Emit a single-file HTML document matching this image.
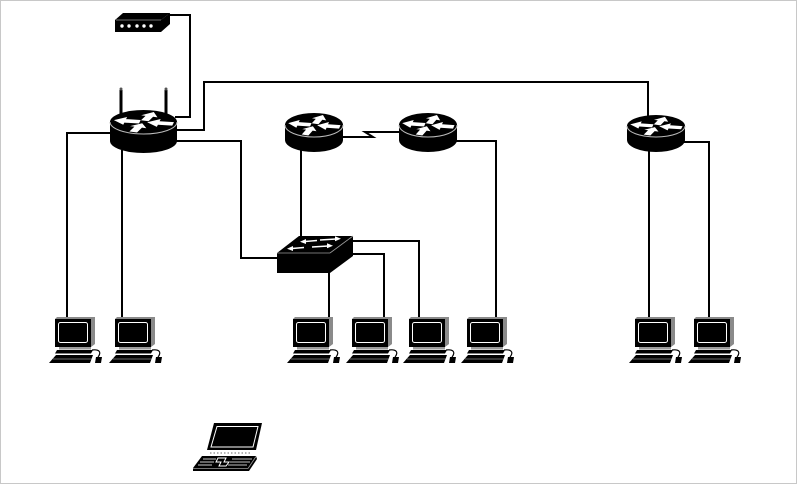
<!DOCTYPE html>
<html><head><meta charset="utf-8"><style>
html,body{margin:0;padding:0;background:#fff;}
svg{display:block;}
</style></head><body>
<svg width="800" height="486" viewBox="0 0 800 486" xmlns="http://www.w3.org/2000/svg">
<defs>
  <g id="pc">
    <polygon points="2,0 40,0 40,27 36,30 36,2 0,2" fill="#8a8a8a"/>
    <rect x="0" y="2" width="36" height="28" fill="#000"/>
    <rect x="3.5" y="5.5" width="29" height="20" rx="2" fill="none" stroke="#fff" stroke-width="1"/>
    <rect x="4" y="30" width="32" height="2.5" fill="#9a9a9a"/>
    <polygon points="2,33 38,33 36,36.5 0,36.5" fill="#000"/>
    <polygon points="1,38 38,38 35,46 -6,46" fill="#000"/>
    <line x1="-2" y1="42" x2="36.5" y2="42" stroke="#888" stroke-width="0.8"/>
    <path d="M37,33 C44,32 47,35 43,40" stroke="#000" fill="none" stroke-width="1.2"/>
    <polygon points="41,40 47,40 46,46 40,46" fill="#000"/>
  </g>
  <g id="arr" fill="#fff">
    <polygon transform="rotate(190)" points="0.12,-0.16 0.6,-0.16 0.6,-0.36 0.97,0 0.6,0.36 0.6,0.16 0.12,0.16"/>
    <polygon transform="rotate(10)" points="0.97,-0.16 0.5,-0.16 0.5,-0.36 0.12,0 0.5,0.36 0.5,0.16 0.97,0.16"/>
    <polygon transform="rotate(-70)" points="0.12,-0.13 0.55,-0.13 0.55,-0.28 0.97,0 0.55,0.28 0.55,0.13 0.12,0.13"/>
    <polygon transform="rotate(110)" points="0.97,-0.13 0.5,-0.13 0.5,-0.28 0.12,0 0.5,0.28 0.5,0.13 0.97,0.13"/>
  </g>
</defs>
<rect x="0" y="0" width="800" height="486" fill="#fff"/>
<!-- frame -->
<line x1="0" y1="0.5" x2="797" y2="0.5" stroke="#c8c8c8" stroke-width="1"/>
<line x1="0.5" y1="0" x2="0.5" y2="484" stroke="#c8c8c8" stroke-width="1"/>
<line x1="796.5" y1="0" x2="796.5" y2="484" stroke="#c8c8c8" stroke-width="1"/>
<line x1="0" y1="483.5" x2="797" y2="483.5" stroke="#c8c8c8" stroke-width="1"/>

<!-- connectors -->
<g stroke="#000" stroke-width="2" fill="none">
  <path d="M168,15 H190 V117 H175"/>
  <path d="M175,130 H204 V82 H648 V116"/>
  <path d="M112,133 H67 V325"/>
  <path d="M122,150 V325"/>
  <path d="M175,141 H241 V258 H278"/>
  <path d="M301,150 V238"/>
  <path d="M341,137 H373 L365,132 H401"/>
  <path d="M455,141 H496 V325"/>
  <path d="M351,241 H419 V325"/>
  <path d="M330,254 H384 V325"/>
  <path d="M329,270 V325"/>
  <path d="M683,142 H709 V325"/>
  <path d="M649,150 V325"/>
</g>

<!-- modem -->
<polygon points="115,20 123,13 170,13 161,20" fill="#000"/>
<polygon points="161,20 170,13 170,24 161,32" fill="#000"/>
<rect x="115" y="20" width="46" height="12" fill="#000"/>
<line x1="116" y1="20" x2="161" y2="20" stroke="#999" stroke-width="0.8"/>
<g fill="#fff">
  <circle cx="122" cy="26" r="1.7"/><circle cx="129" cy="26" r="1.7"/><circle cx="137" cy="26" r="1.7"/><circle cx="144" cy="26" r="1.7"/><circle cx="151" cy="26" r="1.7"/>
</g>

<!-- wireless router -->
<rect x="119.5" y="90" width="3" height="26" fill="#000"/>
<rect x="164.5" y="90" width="3" height="26" fill="#000"/>
<circle cx="121" cy="89" r="1.5" fill="#555"/>
<circle cx="166" cy="89" r="1.5" fill="#555"/>
<path d="M110,122 V141 A33.5,12 0 0 0 177,141 V122 Z" fill="#000"/>
<ellipse cx="143.5" cy="122" rx="33.5" ry="12" fill="#000"/>
<path d="M110,122 A33.5,12 0 0 0 177,122" stroke="#bbb" stroke-width="1" fill="none"/>
<g transform="translate(143.5,122) scale(31,11)"><use href="#arr"/></g>

<!-- router 2 -->
<path d="M285,125 V140 A29,12 0 0 0 343,140 V125 Z" fill="#000"/>
<ellipse cx="314" cy="125" rx="29" ry="12" fill="#000"/>
<path d="M285,125 A29,12 0 0 0 343,125" stroke="#bbb" stroke-width="1" fill="none"/>
<g transform="translate(314,125) scale(27,11)"><use href="#arr"/></g>

<!-- router 3 -->
<path d="M399,125 V140 A29,12 0 0 0 457,140 V125 Z" fill="#000"/>
<ellipse cx="428" cy="125" rx="29" ry="12" fill="#000"/>
<path d="M399,125 A29,12 0 0 0 457,125" stroke="#bbb" stroke-width="1" fill="none"/>
<g transform="translate(428,125) scale(27,11)"><use href="#arr"/></g>

<!-- router 4 -->
<path d="M627,126 V140 A29,12 0 0 0 685,140 V126 Z" fill="#000"/>
<ellipse cx="656" cy="126" rx="29" ry="11" fill="#000"/>
<path d="M627,126 A29,11 0 0 0 685,126" stroke="#bbb" stroke-width="1" fill="none"/>
<g transform="translate(656,126) scale(27,10)"><use href="#arr"/></g>

<!-- switch -->
<polygon points="277,253 299,236 353,236 330,253" fill="#000"/>
<polygon points="330,253 353,236 353,256 330,273" fill="#000"/>
<rect x="277" y="253" width="53" height="20" fill="#000"/>
<line x1="277" y1="253" x2="330" y2="253" stroke="#999" stroke-width="0.8"/>
<line x1="330" y1="253" x2="353" y2="236" stroke="#999" stroke-width="0.8"/>
<g stroke="#fff" stroke-width="1.6" fill="#fff">
  <line x1="317" y1="240.5" x2="305" y2="241.5"/>
  <polygon points="300,241.8 306,239 306,244" stroke="none"/>
  <line x1="320" y1="240" x2="336" y2="239"/>
  <polygon points="341,238.7 335,236.3 335,241.3" stroke="none"/>
  <line x1="304" y1="247.5" x2="292" y2="248.5"/>
  <polygon points="287,248.8 293,246 293,251" stroke="none"/>
  <line x1="312" y1="247" x2="328" y2="246"/>
  <polygon points="333,245.7 327,243.3 327,248.3" stroke="none"/>
</g>

<!-- PCs -->
<use href="#pc" transform="translate(55,317)"/>
<use href="#pc" transform="translate(115,317)"/>
<use href="#pc" transform="translate(293,317)"/>
<use href="#pc" transform="translate(352,317)"/>
<use href="#pc" transform="translate(409,317)"/>
<use href="#pc" transform="translate(467,317)"/>
<use href="#pc" transform="translate(635,317)"/>
<use href="#pc" transform="translate(694,317)"/>

<!-- laptop -->
<polygon points="214,423 262,423 256,450 207,450" fill="#000"/>
<polygon points="217,426.5 258,426.5 253,447 211,447" fill="none" stroke="#fff" stroke-width="1"/>
<line x1="210" y1="453" x2="252" y2="453" stroke="#888" stroke-width="1.2" stroke-dasharray="1.5,2"/>
<polygon points="202,456 256,456 257,459 249,471 193,471 193,468" fill="#000"/>
<line x1="193" y1="468.5" x2="248" y2="468.5" stroke="#999" stroke-width="0.8"/>
<line x1="248" y1="468.5" x2="256" y2="456.5" stroke="#999" stroke-width="0.8"/>
<g stroke="#fff" stroke-width="0.8">
  <line x1="203" y1="459" x2="216" y2="459"/>
  <line x1="232" y1="459" x2="252" y2="459"/>
  <line x1="200" y1="462" x2="214" y2="462"/>
  <line x1="230" y1="462" x2="250" y2="462"/>
  <line x1="198" y1="465" x2="212" y2="465"/>
  <line x1="228" y1="465" x2="247" y2="465"/>
</g>
<path d="M218,458 L226,458 L224,462 L229,462 L226,466 L219,466 L221,462 L216,462 Z" fill="none" stroke="#fff" stroke-width="1"/>
</svg>
</body></html>
